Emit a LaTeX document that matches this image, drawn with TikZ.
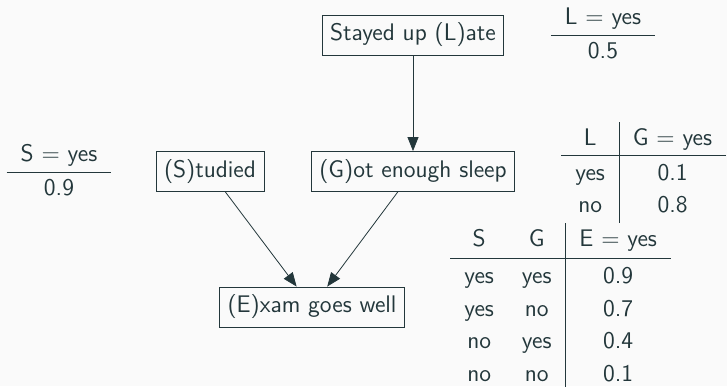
\documentclass[tikz,border=0pt,12pt]{standalone}
\usepackage{tikz}
\usetikzlibrary{arrows.meta}
\definecolor{mDark}{HTML}{23373B}
\definecolor{mBg}{HTML}{FAFAFA}
\renewcommand{\familydefault}{\sfdefault}
\setlength{\tabcolsep}{7pt}
\renewcommand{\arraystretch}{1.12}
\newcommand{\rowstrut}{\rule{0pt}{12.4pt}}

\begin{document}
\begin{tikzpicture}[x=0.5pt, y=-0.5pt, color=mDark,
    var/.style={draw, rectangle, inner sep=4pt},
    link/.style={-{Triangle[length=7pt,width=5.5pt]}}]
		\fill[mBg] (0,0) rectangle (727,386);
		\useasboundingbox (0,0) rectangle (727,386);
		% variables
		\node (L) at (413,35) [var] {Stayed up (L)ate};
		\node (S) at (210,171.5) [var] {(S)tudied};
		\node (G) at (413,171.5) [var] {(G)ot enough sleep};
		\node (E) at (312,307) [var] {(E)xam goes well};
		% priors
		\node (Lprior) at (603,35) [inner sep=0] {\begin{tabular}{c} L $=$ yes \\ \hline 0.5 \end{tabular}};
		\node (Sprior) at (59,172) [inner sep=0] {\begin{tabular}{c} S $=$ yes \\ \hline 0.9 \end{tabular}};
		% conditional tables
		\node (Gcpt) at (561,122) [anchor=north west, inner sep=0] {\begin{tabular}{c|c} L & G $=$ yes \\ \hline \rowstrut yes & 0.1 \\ no & 0.8 \end{tabular}};
		\node (Ecpt) at (450,223) [anchor=north west, inner sep=0] {\begin{tabular}{cc|c} S & G & E $=$ yes \\[1.2pt] \hline \rowstrut yes & yes & 0.9 \\ yes & no & 0.7 \\ no & yes & 0.4 \\ no & no & 0.1 \end{tabular}};
		% edges
		\draw[link] (L) -- (G);
		\draw[link] (S) -- (E);
		\draw[link] (G) -- (E);
\end{tikzpicture}
\end{document}
